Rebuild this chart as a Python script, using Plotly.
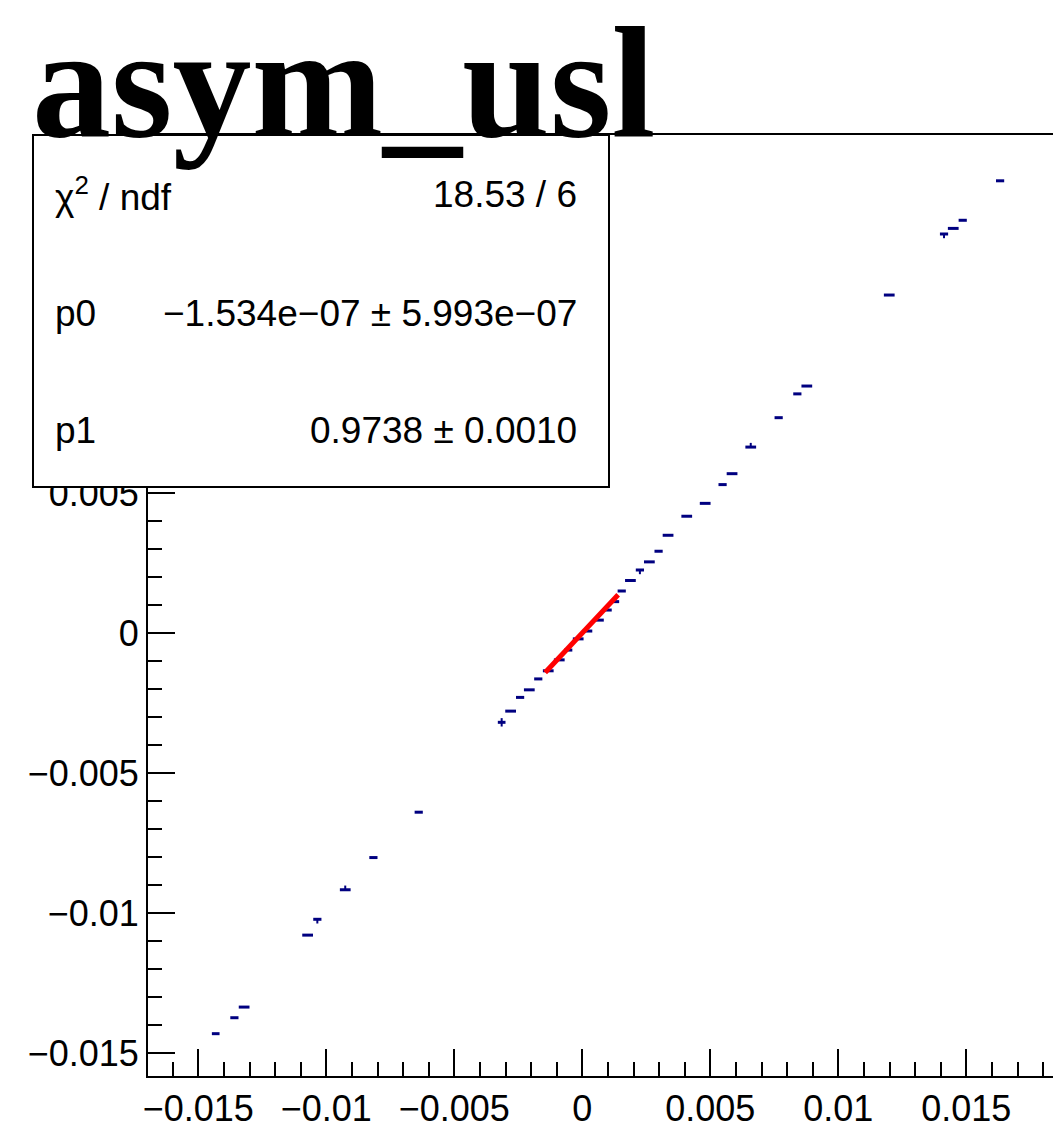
import numpy as np
import plotly.graph_objects as go

# ---- data (values in units of 1e-3) ----
x_vals = [-14.32, -13.59, -13.21, -10.73, -10.35, -9.26, -8.16, -6.39,
          -3.15, -2.80, -2.43, -2.07, -1.72, -1.33, -0.90, -0.55, -0.16,
          0.23, 0.63, 0.99, 1.28, 1.54, 1.88, 2.25, 2.62, 2.98, 3.35,
          4.08, 4.80, 5.48, 5.85, 6.58, 7.67, 8.40, 8.77, 11.99, 14.13,
          14.49, 14.86, 16.32]
y_vals = [-14.31, -13.74, -13.36, -10.79, -10.225, -9.17, -8.02, -6.40,
          -3.19, -2.79, -2.30, -2.03, -1.64, -1.35, -0.96, -0.61, -0.21,
          0.07, 0.46, 0.82, 1.12, 1.50, 1.875, 2.25, 2.54, 2.92, 3.49,
          4.17, 4.63, 5.30, 5.69, 6.64, 7.69, 8.54, 8.82, 12.07, 14.25,
          14.45, 14.74, 16.15]
x_err = [0.15, 0.16, 0.21, 0.21, 0.16, 0.21, 0.16, 0.16,
         0.15, 0.21, 0.16, 0.21, 0.16, 0.21, 0.21, 0.16, 0.21,
         0.16, 0.21, 0.16, 0.16, 0.16, 0.21, 0.16, 0.21, 0.16, 0.21,
         0.21, 0.21, 0.16, 0.21, 0.21, 0.16, 0.16, 0.21, 0.21, 0.16,
         0.21, 0.16, 0.16]
y_err_up = [0, 0, 0, 0, 0, 0.15, 0, 0,
            0.15, 0, 0, 0, 0, 0, 0, 0, 0,
            0, 0, 0, 0, 0, 0, 0, 0, 0, 0,
            0, 0, 0, 0, 0.15, 0, 0, 0, 0, 0,
            0, 0, 0]
y_err_down = [0, 0, 0, 0, 0.15, 0, 0, 0,
              0.15, 0, 0, 0, 0, 0, 0, 0, 0,
              0, 0, 0, 0, 0, 0, 0.15, 0, 0, 0,
              0, 0, 0, 0, 0, 0, 0, 0, 0, 0.15,
              0, 0, 0]
scale = 1e-3

# fit parameters and range
p0 = -1.534e-07
p1 = 0.9738
fit_range = [-1.45e-3, 1.40e-3]

title_text = "asym_usl"
stats_labels = ["χ<sup>2</sup> / ndf", "p0", "p1"]
stats_values = ["18.53 / 6", "−1.534e−07 ± 5.993e−07", "0.9738 ± 0.0010"]

# ---- layout geometry (screen pixels; page has 8px body margin) ----
OFF = 8
SW, SH = 1061, 1144
W, H = SW - OFF, SH - OFF
plot_left, plot_right, plot_top, plot_bottom = 148, 1061, 135, 1076
L = plot_left - OFF
T = plot_top - OFF
R = (SW) - plot_right
B = SH - plot_bottom
pw = plot_right - plot_left
ph = plot_bottom - plot_top
x_zero_px, x_scale = 582.3, 25.6e3
y_zero_px, y_scale = 633.0, 28.0e3
x_range = [(plot_left - x_zero_px) / x_scale, (plot_right - x_zero_px) / x_scale]
y_range = [(y_zero_px - plot_bottom) / y_scale, (y_zero_px - plot_top) / y_scale]


def px_x(px):
    return (px - plot_left) / pw


def px_y(py):
    return (plot_bottom - py) / ph


navy = "#000080"
xs = np.array(x_vals) * scale
ys = np.array(y_vals) * scale

fig = go.Figure()
fig.add_trace(go.Scatter(
    x=xs, y=ys, mode="markers",
    marker=dict(size=1, color=navy),
    error_x=dict(type="data", array=np.array(x_err) * scale,
                 color=navy, thickness=3, width=0),
    error_y=dict(type="data", symmetric=False,
                 array=np.array(y_err_up) * scale,
                 arrayminus=np.array(y_err_down) * scale,
                 color=navy, thickness=2, width=0),
    hoverinfo="skip", showlegend=False,
))

fx = np.linspace(fit_range[0], fit_range[1], 20)
fig.add_trace(go.Scatter(
    x=fx, y=p0 + p1 * fx, mode="lines",
    line=dict(color="#ff0000", width=5),
    hoverinfo="skip", showlegend=False,
))

font_sans = "Liberation Sans, Arial, Helvetica, sans-serif"
axis_common = dict(
    showgrid=False, zeroline=False, showline=True, linecolor="black",
    linewidth=2, ticks="inside", ticklen=27, tickwidth=2, tickcolor="black",
    tick0=0, dtick=0.005,
    minor=dict(ticks="inside", ticklen=14, tickwidth=2, tickcolor="black",
               dtick=0.001, tick0=0, showgrid=False),
    tickfont=dict(family=font_sans, size=36, color="black"),
    automargin=False, fixedrange=True,
)
fig.update_xaxes(range=x_range, mirror=True, ticklabelstandoff=0, **axis_common)
fig.update_yaxes(range=y_range, mirror=False, ticklabelstandoff=0, **axis_common)

# stats box
fig.add_shape(type="rect", xref="paper", yref="paper",
              x0=px_x(33), x1=px_x(609), y0=px_y(487), y1=px_y(135),
              line=dict(color="black", width=2), fillcolor="white",
              layer="above")

rows_y = [195, 313, 430]
for lab, val, ry in zip(stats_labels, stats_values, rows_y):
    fig.add_annotation(text=lab, xref="paper", yref="paper",
                       x=px_x(53), y=px_y(ry), xanchor="left", yanchor="middle",
                       showarrow=False,
                       font=dict(family=font_sans, size=37, color="black"))
    fig.add_annotation(text=val, xref="paper", yref="paper",
                       x=px_x(579), y=px_y(ry), xanchor="right", yanchor="middle",
                       showarrow=False,
                       font=dict(family=font_sans, size=37, color="black"))

# title
fig.add_annotation(text="<b>" + title_text + "</b>", xref="paper", yref="paper",
                   x=px_x(30), y=px_y(82), xanchor="left", yanchor="middle",
                   showarrow=False,
                   font=dict(family="Liberation Serif, Times New Roman, serif",
                             size=158, color="black"))

fig.update_layout(
    width=W, height=H,
    margin=dict(l=L, r=R, t=T, b=B, pad=0),
    paper_bgcolor="white", plot_bgcolor="white",
    showlegend=False,
)

fig.write_html("out.html")
